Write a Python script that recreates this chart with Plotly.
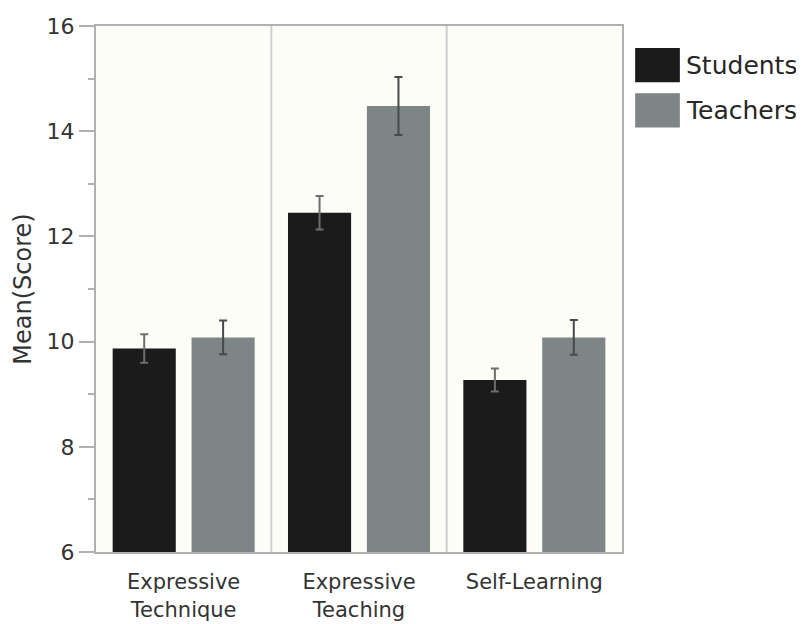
import plotly.graph_objects as go

categories = ["Expressive<br>Technique", "Expressive<br>Teaching", "Self-Learning"]
students = [9.87, 12.45, 9.27]
students_err = [0.27, 0.32, 0.22]
teachers = [10.08, 14.48, 10.08]
teachers_err = [0.32, 0.55, 0.33]
series_names = ["Students", "Teachers"]
series_colors = ["#1b1b1b", "#7d8586"]

FONT = "DejaVu Sans"

fig = go.Figure()
fig.add_trace(go.Bar(
    x=list(range(len(categories))), y=students, name=series_names[0],
    marker=dict(color=series_colors[0], line=dict(width=0)),
    error_y=dict(type="data", array=students_err, color="#6e6e6e", thickness=2, width=4),
    showlegend=False,
))
fig.add_trace(go.Bar(
    x=list(range(len(categories))), y=teachers, name=series_names[1],
    marker=dict(color=series_colors[1], line=dict(width=0)),
    error_y=dict(type="data", array=teachers_err, color="#454a4b", thickness=2, width=4),
    showlegend=False,
))

# category separators
for i in range(1, len(categories)):
    fig.add_shape(type="line", xref="x", yref="paper", x0=i - 0.5, x1=i - 0.5, y0=0, y1=1,
                  line=dict(color="#cfcfcf", width=2), layer="below")

# custom legend with large swatches
legend_tops = [0.958, 0.872]
for nm, col, yt in zip(series_names, series_colors, legend_tops):
    fig.add_shape(type="rect", xref="paper", yref="paper",
                  x0=1.025, x1=1.110, y0=yt - 0.065, y1=yt,
                  fillcolor=col, line=dict(width=0))
    fig.add_annotation(xref="paper", yref="paper", x=1.117, y=yt - 0.0325,
                       text=nm, showarrow=False, xanchor="left", yanchor="middle",
                       font=dict(family=FONT, size=25, color="#262626"))

fig.update_layout(
    width=796, height=616,
    margin=dict(l=88, r=182, t=18, b=72, autoexpand=False),
    paper_bgcolor="white",
    plot_bgcolor="#fdfdf8",
    barmode="group",
    bargap=0.1,
    bargroupgap=0.2,
    font=dict(family=FONT, size=22, color="#333"),
)
fig.update_xaxes(
    tickmode="array", tickvals=list(range(len(categories))), ticktext=categories,
    range=[-0.5, len(categories) - 0.5],
    showline=True, mirror=True, linecolor="#b0b0b0", linewidth=2,
    showgrid=False, ticks="", tickfont=dict(size=21, color="#333"),
    ticklabelstandoff=10, automargin=False,
)
fig.update_yaxes(
    range=[6, 16], tickvals=[6, 8, 10, 12, 14, 16], dtick=2,
    showline=True, mirror=True, linecolor="#b0b0b0", linewidth=2,
    showgrid=False, zeroline=False, automargin=False,
    ticks="outside", ticklen=15, tickwidth=2, tickcolor="#b0b0b0",
    minor=dict(tickvals=[7, 9, 11, 13, 15], ticks="outside", ticklen=6, tickwidth=2, tickcolor="#b0b0b0"),
    tickfont=dict(size=22, color="#333"),
    title=dict(text="Mean(Score)", font=dict(size=24, color="#333"), standoff=8),
)

fig.write_html("out.html")
